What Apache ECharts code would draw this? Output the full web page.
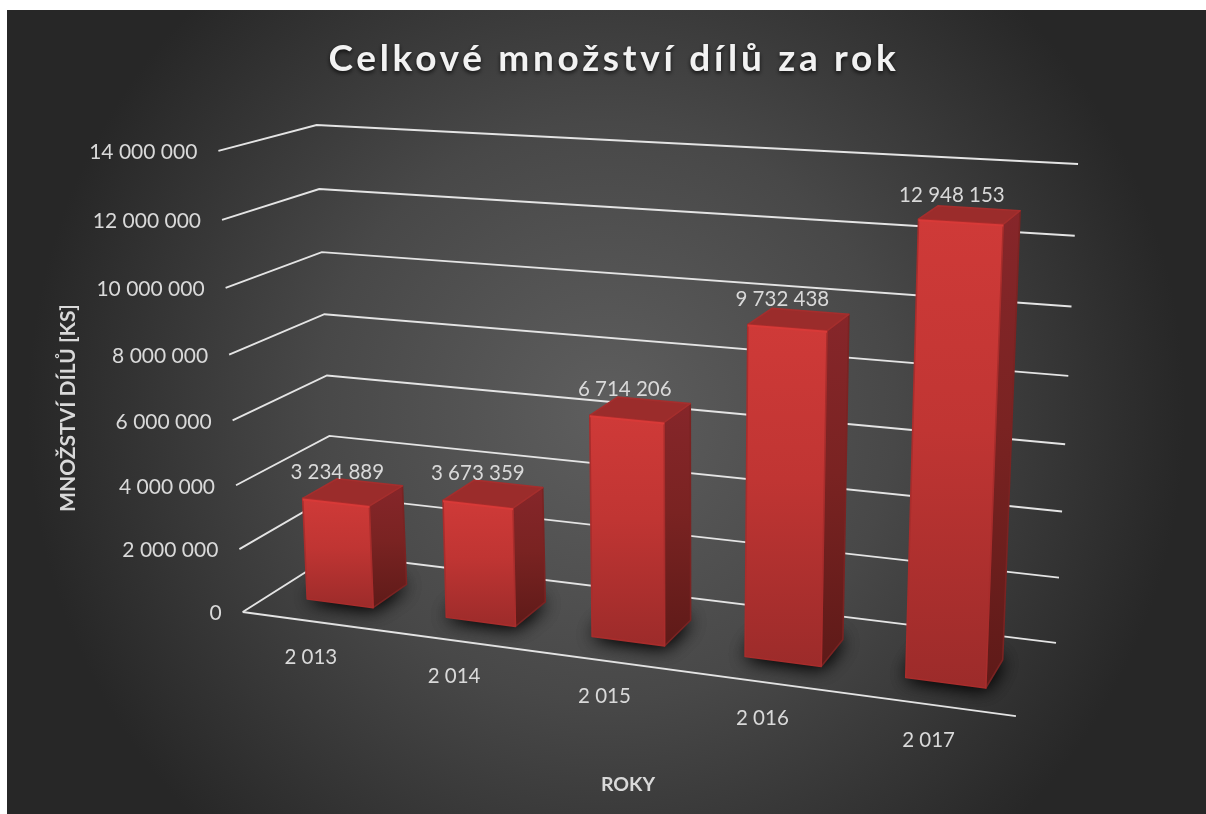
<!DOCTYPE html>
<html lang="cs">
<head>
<meta charset="utf-8">
<title>Celkové množství dílů za rok</title>
<style>
  html, body { margin: 0; padding: 0; background: #fff; overflow: hidden; }
  #chart { width: 1206px; height: 814px; }
</style>
<script src="https://cdn.jsdelivr.net/npm/echarts@6/dist/echarts.min.js"></script>
</head>
<body>
<div id="chart"></div>
<script>
// Chart data
const chartTitle = 'Celkové množství dílů za rok';
const xAxisTitle = 'ROKY';
const yAxisTitle = 'MNOŽSTVÍ DÍLŮ [KS]';
const categories = ['2 013', '2 014', '2 015', '2 016', '2 017'];
const partCounts = [3234889, 3673359, 6714206, 9732438, 12948153];
const valueTicks = [0, 2000000, 4000000, 6000000, 8000000, 10000000, 12000000, 14000000];
const valueMax = 14000000;

const TEXT_FONT = 'Lato';
const TEXT_COLOR = '#d9d9d9';
const LINE_COLOR = '#e4e4e4';

// Widen the tracking of the heading only; the text API has no letter spacing.
const nativeFillText = CanvasRenderingContext2D.prototype.fillText;
CanvasRenderingContext2D.prototype.fillText = function (text, x, y, maxWidth) {
  const previous = this.letterSpacing;
  if (text === chartTitle) this.letterSpacing = '3.7px';
  if (maxWidth === undefined) nativeFillText.call(this, text, x, y);
  else nativeFillText.call(this, text, x, y, maxWidth);
  this.letterSpacing = previous;
};

// Camera for the 3D plot box: unit-box corners (across, depth, height) and where they appear.
const boxCalibration = [
  [0, 0, 0, 243, 612], [0, 0, 1, 218, 151],
  [0, 1, 0, 334, 554], [0, 1, 1, 317, 125],
  [1, 1, 0, 1056, 643], [1, 1, 1, 1078, 164],
  [1, 0, 0, 1016, 716]
];

function fitCamera(samples) {
  const rows = [];
  const rhs = [];
  samples.forEach(([u, v, h, x, y]) => {
    rows.push([u, v, h, 1, 0, 0, 0, 0, -x * u, -x * v, -x * h]); rhs.push(x);
    rows.push([0, 0, 0, 0, u, v, h, 1, -y * u, -y * v, -y * h]); rhs.push(y);
  });
  const n = 11;
  const m = [];
  for (let i = 0; i < n; i++) {
    m.push(new Array(n + 1).fill(0));
    for (let j = 0; j < n; j++) rows.forEach(r => { m[i][j] += r[i] * r[j]; });
    rows.forEach((r, k) => { m[i][n] += r[i] * rhs[k]; });
  }
  for (let c = 0; c < n; c++) {
    let p = c;
    for (let r = c + 1; r < n; r++) if (Math.abs(m[r][c]) > Math.abs(m[p][c])) p = r;
    [m[c], m[p]] = [m[p], m[c]];
    for (let r = 0; r < n; r++) {
      if (r === c) continue;
      const f = m[r][c] / m[c][c];
      for (let k = c; k <= n; k++) m[r][k] -= f * m[c][k];
    }
  }
  return m.map((row, i) => row[n] / row[i]);
}

const camera = fitCamera(boxCalibration);
function project(u, v, h) {
  const w = camera[8] * u + camera[9] * v + camera[10] * h + 1;
  return [
    (camera[0] * u + camera[1] * v + camera[2] * h + camera[3]) / w,
    (camera[4] * u + camera[5] * v + camera[6] * h + camera[7]) / w
  ];
}

// Hidden cartesian grid: scales come from the axes, then get projected into the box.
function unitPoint(api, coordSys, category, value) {
  const p = api.coord([category, value]);
  return {
    u: (p[0] - coordSys.x) / coordSys.width,
    h: (coordSys.y + coordSys.height - p[1]) / coordSys.height,
    band: api.size([1, 0])[0] / coordSys.width
  };
}

const BAR_MARGIN_LEFT = 0.27;   // share of a category band left free on each side
const BAR_MARGIN_RIGHT = 0.25;
const BAR_DEPTH_NEAR = 0.29;
const BAR_DEPTH_FAR = 0.68;
const BAR_TOP_DEPTH_FAR = 0.67; // bevelled top edge sits a little inside the base

const groupThousands = n => String(n).replace(/\B(?=(\d{3})+$)/g, ' ');

function renderWalls(params, api) {
  const coordSys = params.coordSys;
  const tick = api.value(0);
  const level = unitPoint(api, coordSys, 0, tick).h;
  const frontLeft = project(0, 0, level);
  const children = [{
    type: 'polyline',
    silent: true,
    shape: { points: [frontLeft, project(0, 1, level), project(1, 1, level)] },
    style: { fill: null, stroke: LINE_COLOR, lineWidth: 1.9, lineJoin: 'miter' }
  }, {
    type: 'text',
    silent: true,
    style: {
      text: groupThousands(tick),
      x: frontLeft[0] - 21, y: frontLeft[1] + 1.5,
      align: 'right', verticalAlign: 'middle',
      fill: TEXT_COLOR, fontFamily: TEXT_FONT, fontSize: 21
    }
  }];
  if (tick === 0) {
    const a = project(0, 0, 0);
    const b = project(1, 0, 0);
    children.push({
      type: 'line',
      silent: true,
      shape: { x1: a[0], y1: a[1], x2: b[0], y2: b[1] },
      style: { stroke: LINE_COLOR, lineWidth: 1.9 }
    });
  }
  return { type: 'group', children };
}

function renderBar(params, api) {
  const coordSys = params.coordSys;
  const index = api.value(0);
  const value = api.value(1);
  const top = unitPoint(api, coordSys, index, value);
  const u0 = top.u - top.band / 2 + top.band * BAR_MARGIN_LEFT;
  const u1 = top.u + top.band / 2 - top.band * BAR_MARGIN_RIGHT;
  const v0 = BAR_DEPTH_NEAR;
  const v1 = BAR_DEPTH_FAR;
  const vt = BAR_TOP_DEPTH_FAR;
  const h = top.h;

  const fbl = project(u0, v0, 0); const fbr = project(u1, v0, 0);
  const bbr = project(u1, v1, 0); const bbl = project(u0, v1, 0);
  const ftl = project(u0, v0, h); const ftr = project(u1, v0, h);
  const btr = project(u1, vt, h); const btl = project(u0, vt, h);

  const face = (points, fill, stroke) => ({
    type: 'polygon',
    silent: true,
    shape: { points },
    style: { fill, stroke: stroke || fill, lineWidth: 1.6, lineJoin: 'round' }
  });
  const vertical = (from, mid, to) => ({
    type: 'linear', x: 0, y: 0, x2: 0, y2: 1,
    colorStops: [{ offset: 0, color: from }, { offset: 0.45, color: mid }, { offset: 1, color: to }]
  });
  // Base of the bar, hidden by its faces: only the soft floor shadow stays visible.
  const floorShadow = () => ({
    type: 'polygon',
    silent: true,
    shape: { points: [fbl, fbr, bbr, bbl] },
    style: { fill: '#2a1010', shadowBlur: 20, shadowColor: 'rgba(0,0,0,0.9)' }
  });

  const floorLabel = project(top.u, 0, 0);
  return {
    type: 'group',
    children: [
      floorShadow(),
      floorShadow(),
      face([fbr, bbr, btr, ftr], vertical('#86262a', '#7a2322', '#5e1a18'), '#7a2322'),
      face([ftl, ftr, btr, btl], '#9b2c2b', '#a52e2d'),
      face([fbl, fbr, ftr, ftl], vertical('#cf3a38', '#c03533', '#9c2b2a'), '#a82d2c'),
      {
        type: 'line',
        silent: true,
        shape: { x1: ftl[0], y1: ftl[1] + 1, x2: ftr[0], y2: ftr[1] + 1 },
        style: { stroke: '#d83a38', lineWidth: 2 }
      },
      {
        type: 'text',
        silent: true,
        style: {
          text: groupThousands(value),
          x: btl[0] + index * 3.5, y: btl[1] - 5 - 6 * h,
          align: 'center', verticalAlign: 'middle',
          fill: TEXT_COLOR, fontFamily: TEXT_FONT, fontSize: 20.5
        }
      },
      {
        type: 'text',
        silent: true,
        style: {
          text: categories[index],
          x: floorLabel[0] - 1, y: floorLabel[1] + 36,
          align: 'center', verticalAlign: 'middle',
          fill: TEXT_COLOR, fontFamily: TEXT_FONT, fontSize: 20.5
        }
      }
    ]
  };
}

const chart = echarts.init(document.getElementById('chart'), null, { renderer: 'canvas' });
chart.setOption({
  animation: false,
  backgroundColor: '#ffffff',
  tooltip: { show: false },
  title: {
    text: chartTitle,
    left: 609,
    top: 36,
    textAlign: 'center',
    textStyle: {
      color: '#f2f2f2',
      fontFamily: TEXT_FONT,
      fontWeight: 'bold',
      fontSize: 37,
      textShadowColor: 'rgba(0,0,0,0.75)',
      textShadowBlur: 4,
      textShadowOffsetY: 2
    }
  },
  graphic: [
    {
      type: 'rect',
      z: -10,
      silent: true,
      shape: { x: 7, y: 10, width: 1199, height: 804 },
      style: {
        fill: {
          type: 'radial', x: 0.5, y: 0.5, r: 0.72,
          colorStops: [
            { offset: 0, color: '#5e5e5e' },
            { offset: 0.5, color: '#484848' },
            { offset: 1, color: '#272727' }
          ]
        }
      }
    },
    {
      type: 'text',
      silent: true,
      x: 628, y: 785,
      style: {
        text: xAxisTitle, align: 'center', verticalAlign: 'middle',
        fill: TEXT_COLOR, fontFamily: TEXT_FONT, fontWeight: 'bold', fontSize: 19.5
      }
    },
    {
      type: 'text',
      silent: true,
      x: 68, y: 408,
      rotation: Math.PI / 2,
      style: {
        text: yAxisTitle, align: 'center', verticalAlign: 'middle',
        fill: TEXT_COLOR, fontFamily: TEXT_FONT, fontWeight: 'bold', fontSize: 21
      }
    }
  ],
  grid: { left: 0, right: 0, top: 0, bottom: 0 },
  xAxis: { type: 'category', data: categories, show: false },
  yAxis: { type: 'value', min: 0, max: valueMax, interval: 2000000, show: false },
  series: [
    {
      name: 'Osy',
      type: 'custom',
      coordinateSystem: 'cartesian2d',
      renderItem: renderWalls,
      encode: { y: 0 },
      data: valueTicks.map(v => [v]),
      clip: false,
      silent: true,
      z: 1
    },
    {
      name: 'Množství dílů',
      type: 'custom',
      coordinateSystem: 'cartesian2d',
      renderItem: renderBar,
      encode: { x: 0, y: 1 },
      data: partCounts.map((v, i) => [i, v]),
      clip: false,
      silent: true,
      z: 2
    }
  ]
});
</script>
</body>
</html>
